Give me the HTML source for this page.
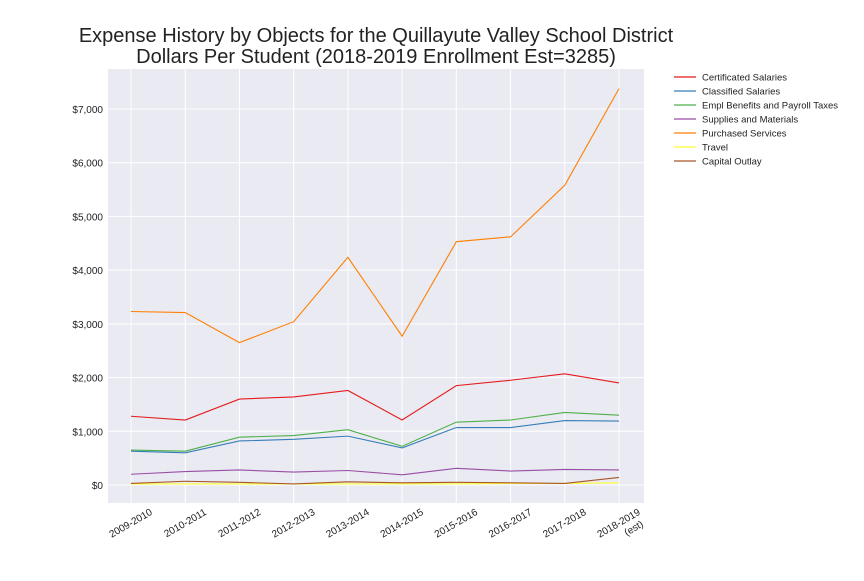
<!DOCTYPE html>
<html><head><meta charset="utf-8"><style>
body{margin:0;background:#fff;font-family:"Liberation Sans",Arial,sans-serif}
svg text{font-family:"Liberation Sans",Arial,sans-serif}
</style></head><body>
<svg id="c" width="864" height="576">
<text x="376" y="42" font-size="20" text-anchor="middle" fill="#222">Expense History by Objects for the Quillayute Valley School District</text>
<text x="376" y="63" font-size="20" text-anchor="middle" fill="#222">Dollars Per Student (2018-2019 Enrollment Est=3285)</text>
<rect x="108" y="69" width="536" height="434" fill="#eaeaf2"/>
<g id="grid"></g><g id="lines"></g><g id="legend"></g>
</svg>
<script>
const categories=["2009-2010","2010-2011","2011-2012","2012-2013","2013-2014","2014-2015","2015-2016","2016-2017","2017-2018","2018-2019"];
const seriesNames=["Certificated Salaries","Classified Salaries","Empl Benefits and Payroll Taxes","Supplies and Materials","Purchased Services","Travel","Capital Outlay"];
const seriesColors=["#e41a1c","#377eb8","#4daf4a","#984ea3","#ff7f00","#ffff33","#a65628"];
const certificated=[1280,1210,1600,1640,1760,1210,1850,1950,2070,1900];
const classified=[630,600,820,850,910,690,1070,1070,1200,1190];
const benefits=[650,630,890,920,1030,720,1170,1210,1350,1300];
const supplies=[200,250,280,240,270,190,310,260,290,280];
const purchased=[3230,3210,2650,3040,4240,2770,4530,4620,5580,7380];
const travel=[20,20,20,20,20,20,20,30,30,40];
const capital=[30,70,50,20,60,40,50,40,30,140];
const yTicks=[0,1000,2000,3000,4000,5000,6000,7000];
const yTickLabels=["$0","$1,000","$2,000","$3,000","$4,000","$5,000","$6,000","$7,000"];
const allSeries=[certificated,classified,benefits,supplies,purchased,travel,capital];
const NS="http://www.w3.org/2000/svg";
const xs=i=>131+i*(619-131)/(categories.length-1);
const ys=v=>485-v*(485-109)/7000;
function mk(t,a,p){const e=document.createElementNS(NS,t);for(const k in a)e.setAttribute(k,a[k]);p.appendChild(e);return e;}
const g=document.getElementById('grid');
yTicks.forEach((v,i)=>{
 const l=mk('line',{x1:108,x2:644,y1:ys(v),y2:ys(v),stroke:'#fff','stroke-width':1},g);
 
 
 const t=mk('text',{x:103,y:ys(v)+4,'font-size':10,'text-anchor':'end',fill:'#222'},g);
 t.textContent=yTickLabels[i];
 
 
});
categories.forEach((c,i)=>{
 const x=xs(i);
 const l=mk('line',{x1:x,x2:x,y1:69,y2:503,stroke:'#fff','stroke-width':1},g);
 
 
 const t=mk('text',{transform:`translate(${x+22},${514}) rotate(-30)`,'font-size':10,'text-anchor':'end',fill:'#222'},g);
 t.textContent=c;
 
 
 if(i==categories.length-1){
  const t2=mk('text',{transform:`translate(${x+25},${526}) rotate(-30)`,'font-size':10,'text-anchor':'end',fill:'#222'},g);
  t2.textContent="(est)";
  
  
 }
});
const L=document.getElementById('lines');
const order=[5,6,3,1,2,0,4];
order.forEach(s=>{
 const pts=allSeries[s].map((v,i)=>xs(i)+','+ys(v)).join(' ');
 const p=mk('polyline',{points:pts,fill:'none',stroke:seriesColors[s],'stroke-width':1.1},L);
 
 
});
const lg=document.getElementById('legend');
seriesNames.forEach((n,i)=>{
 const y=77+i*14;
 const l=mk('line',{x1:674,x2:696,y1:y,y2:y,stroke:seriesColors[i],'stroke-width':1.2},lg);
 
 
 const t=mk('text',{x:702,y:y+3.5,'font-size':9.5,fill:'#222'},lg);
 t.textContent=n;
 
 
});
</script>
</body></html>
